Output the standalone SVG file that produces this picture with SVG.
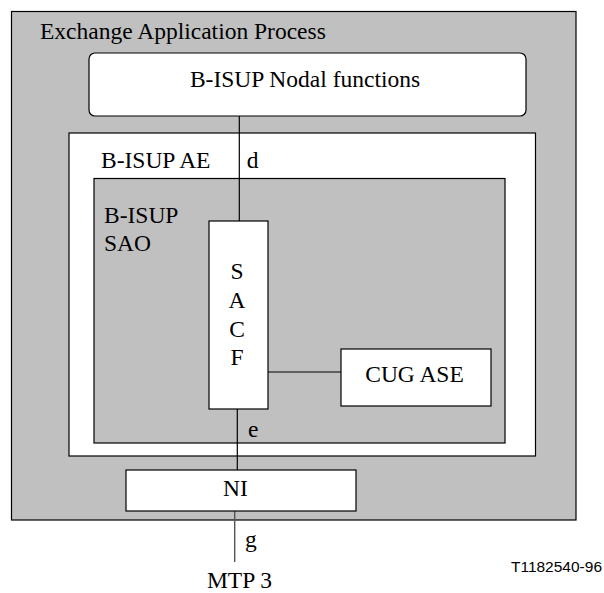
<svg xmlns="http://www.w3.org/2000/svg" width="604" height="593" viewBox="0 0 604 593">
<style>
.box{stroke:#000;stroke-width:1.2}
.grey{fill:#c0c0c0}
.white{fill:#fff}
.t{font-family:"Liberation Serif","Times New Roman",serif;font-size:23.5px;fill:#000}
.c{text-anchor:middle}
.ln{stroke:#000;stroke-width:1.2;fill:none}
</style>
<rect width="604" height="593" fill="#fff"/>
<g id="exchange-application-process">
<rect class="box grey" x="11.5" y="11.5" width="564.5" height="508.5"/>
<text class="t" x="40" y="39">Exchange Application Process</text>
</g>
<g id="nodal-functions">
<rect class="box white" x="89" y="53" width="437" height="63" rx="6" ry="6"/>
<text class="t c" x="305" y="87">B-ISUP Nodal functions</text>
</g>
<g id="bisup-ae">
<rect class="box white" x="69" y="133" width="466.5" height="323"/>
<text class="t" x="101" y="168">B-ISUP AE</text>
</g>
<g id="bisup-sao">
<rect class="box grey" x="94" y="178.5" width="411" height="264.5"/>
<text class="t" x="104" y="223">B-ISUP</text>
<text class="t" x="104" y="251">SAO</text>
</g>
<g id="connectors">
<line class="ln" x1="239.3" y1="116" x2="239.3" y2="221"/>
<line class="ln" x1="268" y1="372" x2="341" y2="372"/>
<line class="ln" x1="237.3" y1="409" x2="237.3" y2="470"/>
<line x1="234.7" y1="509" x2="234.7" y2="562" stroke="#555" stroke-width="1.4"/>
<text class="t" x="246.7" y="168">d</text>
<text class="t" x="248" y="437">e</text>
<text class="t" x="245" y="547">g</text>
</g>
<g id="sacf">
<rect class="box white" x="209" y="221" width="59" height="188"/>
<text class="t c" x="237" y="279">S</text>
<text class="t c" x="237" y="308">A</text>
<text class="t c" x="237" y="337">C</text>
<text class="t c" x="237" y="365">F</text>
</g>
<g id="cug-ase">
<rect class="box white" x="341" y="349" width="150" height="57"/>
<text class="t c" x="414.5" y="382">CUG ASE</text>
</g>
<g id="ni">
<rect class="box white" x="126" y="470" width="230" height="41"/>
<text class="t c" x="235.5" y="496">NI</text>
</g>
<g id="mtp3">
<text class="t c" x="239.5" y="588">MTP 3</text>
</g>
<g id="figure-id">
<text x="602" y="572" text-anchor="end" font-family="'Liberation Sans',Arial,sans-serif" font-size="15.5" fill="#000">T1182540-96</text>
</g>
</svg>
